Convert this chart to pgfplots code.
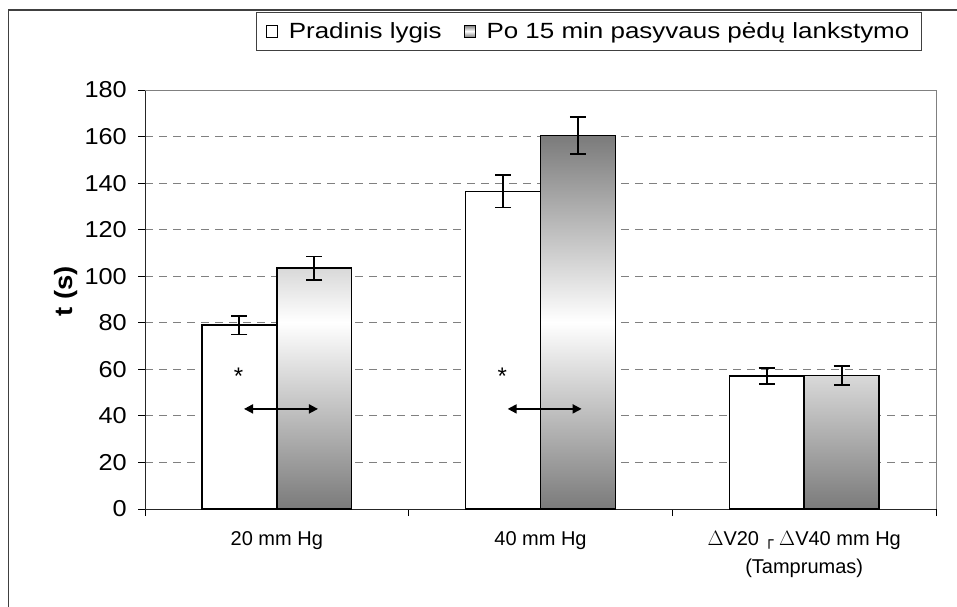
\documentclass[border=0pt]{standalone}
\usepackage{pgfplots}
\pgfplotsset{compat=1.18}
\usepackage{fontspec}
\setmainfont{Liberation Sans}
\newfontfamily\dejavu{DejaVu Sans}
\usetikzlibrary{arrows.meta}

\begin{document}
\begin{tikzpicture}
\useasboundingbox (0pt,0pt) rectangle (957pt,-606pt);
% outer chart frame (cut off at right and bottom)
\draw[black!75, line width=1.6pt] (8.5pt,-620pt) -- (8.5pt,-10pt) -- (970pt,-10pt);
\begin{axis}[
    at={(145pt,-509pt)}, anchor=south west,
    scale only axis, width=791pt, height=419pt,
    ybar=0pt, bar width=0.284,
    xmin=-0.5, xmax=2.5,
    ymin=0, ymax=180,
    axis lines=left,
    axis line style={-, black!85, line width=1pt},
    tick align=outside,
    ytick={0,20,...,180},
    yticklabel={\scalebox{1.1}[1]{\pgfmathprintnumber{\tick}}},
    yticklabel style={font=\fontsize{23}{25}\selectfont, inner xsep=5pt, xshift=-6pt},
    /pgf/number format/assume math mode=true,
    y tick style={black, line width=1pt},
    major tick length=7pt,
    xtick={-0.5,0.5,1.5,2.5},
    xticklabels={},
    x tick style={black, line width=1pt},
    extra x ticks={0,1,2},
    extra x tick labels={20 mm Hg, 40 mm Hg, {$\Delta$V20 {\dejavu\fontsize{15}{15}\selectfont ┌} $\Delta$V40 mm Hg\\(Tamprumas)}},
    extra x tick style={major tick length=0pt, xticklabel style={align=center, font=\fontsize{20}{28}\selectfont, yshift=-19pt}},
    ymajorgrids=true,
    grid style={black!50, line width=0.9pt, dash pattern=on 8pt off 6pt},
    ylabel={\scalebox{1.1}[1]{\bfseries t (s)}},
    ylabel style={at={(axis description cs:-0.1,0.52)}, anchor=center, font=\fontsize{25}{28}\selectfont},
    legend style={at={(axis description cs:0.982,1.186)}, anchor=north east,
        draw=black!75, line width=0.8pt, legend columns=2,
        font=\fontsize{22}{26}\selectfont,
        inner xsep=10pt, inner ysep=8pt,
        /tikz/every odd column/.append style={column sep=9pt},
        /tikz/every even column/.append style={column sep=20pt}},
    legend image code/.code={\draw[#1, line width=0.8pt] (0pt,-6pt) rectangle (11pt,6pt);},
    clip=false,
]
\addplot[fill=white, draw=black, line width=1.4pt,
    error bars/.cd, y dir=both, y explicit,
    error bar style={black, line width=1.8pt},
    error mark options={black, rotate=90, mark size=8pt, line width=1.8pt}]
    coordinates {(0,79) +- (0,4) (1,136.5) +- (0,7) (2,57.2) +- (0,3.5)};
\addplot[top color=black!52, bottom color=black!52, middle color=white, draw=black, line width=1.4pt,
    error bars/.cd, y dir=both, y explicit,
    error bar style={black, line width=1.8pt},
    error mark options={black, rotate=90, mark size=8pt, line width=1.8pt}]
    coordinates {(0,103.5) +- (0,5) (1,160.5) +- (0,8) (2,57.3) +- (0,4)};
\addlegendentry{\scalebox{1.18}[1]{Pradinis lygis}}
\addlegendentry{\scalebox{1.18}[1]{Po 15 min pasyvaus pėdų lankstymo}}
% plot area border
\draw[black!50, line width=1pt] (rel axis cs:0,1) -- (rel axis cs:1,1) -- (rel axis cs:1,0);
% significance marks
\node[font=\fontsize{24}{24}\selectfont] at (axis cs:-0.145,57) {*};
\node[font=\fontsize{24}{24}\selectfont] at (axis cs:0.855,57) {*};
\draw[{Triangle[length=9pt,width=9pt]}-{Triangle[length=9pt,width=9pt]}, line width=1.8pt]
    (axis cs:-0.1245,43) -- (axis cs:0.156,43);
\draw[{Triangle[length=9pt,width=9pt]}-{Triangle[length=9pt,width=9pt]}, line width=1.8pt]
    (axis cs:0.8755,43) -- (axis cs:1.156,43);
\end{axis}
\end{tikzpicture}
\end{document}
